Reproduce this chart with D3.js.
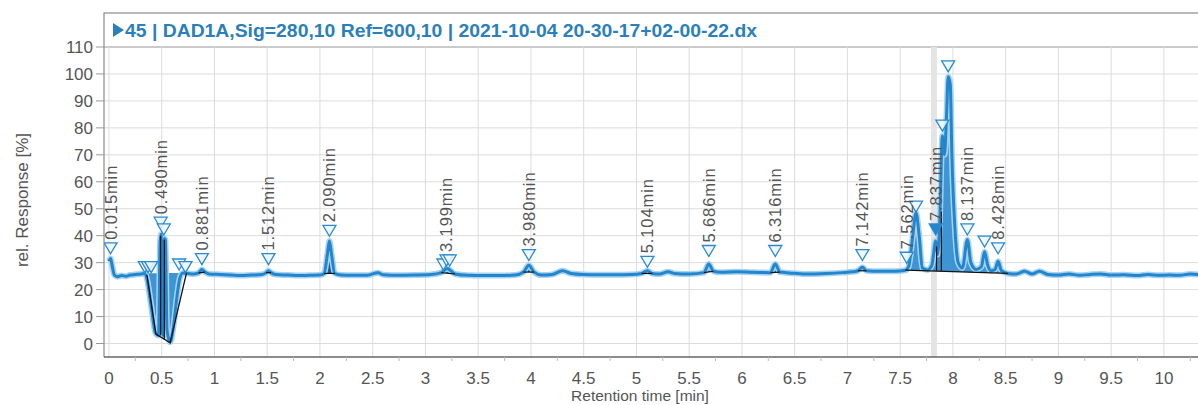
<!DOCTYPE html>
<html>
<head>
<meta charset="utf-8">
<script src="https://cdn.jsdelivr.net/npm/d3@7"></script>
<style>
  body { margin: 0; background: #fff; }
  svg { display: block; font-family: "Liberation Sans", Arial, sans-serif; }
</style>
</head>
<body>
<svg id="chart" width="1198" height="405"></svg>
<script>
// chromatogram trace
const retTime = [
  0.00, 0.015, 0.03, 0.05, 0.08, 0.12, 0.16, 0.20, 0.25, 0.30,
  0.34, 0.36, 0.40, 0.44, 0.47, 0.485, 0.495, 0.505, 0.515, 0.525,
  0.535, 0.55, 0.58, 0.61, 0.64, 0.67, 0.70, 0.75, 0.80, 0.85,
  0.881, 0.91, 0.95, 1.05, 1.15, 1.25, 1.35, 1.45, 1.49, 1.512,
  1.535, 1.58, 1.70, 1.80, 1.90, 2.00, 2.04, 2.07, 2.09, 2.11,
  2.14, 2.20, 2.30, 2.45, 2.55, 2.60, 2.75, 2.90, 3.05, 3.15,
  3.19, 3.21, 3.24, 3.28, 3.40, 3.55, 3.70, 3.85, 3.93, 3.98,
  4.03, 4.10, 4.20, 4.30, 4.38, 4.50, 4.62, 4.80, 4.95, 5.05,
  5.104, 5.15, 5.22, 5.30, 5.36, 5.50, 5.64, 5.686, 5.73, 5.80,
  5.95, 6.10, 6.27, 6.316, 6.36, 6.45, 6.60, 6.80, 6.95, 7.05,
  7.10, 7.142, 7.18, 7.30, 7.45, 7.55, 7.58, 7.62, 7.65, 7.68,
  7.71, 7.76, 7.80, 7.837, 7.855, 7.875, 7.90, 7.92, 7.94, 7.955,
  7.975, 7.99, 8.02, 8.05, 8.09, 8.137, 8.17, 8.22, 8.27, 8.30,
  8.33, 8.36, 8.40, 8.428, 8.46, 8.52, 8.60, 8.68, 8.75, 8.82,
  8.90, 9.00, 9.10, 9.20, 9.30, 9.40, 9.50, 9.62, 9.75, 9.85,
  9.95, 10.05, 10.15, 10.25, 10.34
];
const response = [
  30.5, 31.5, 29.0, 25.5, 24.8, 25.2, 25.0, 25.4, 25.6, 25.8,
  26.0, 24.0, 14.0, 4.0, 3.0, 38.0, 40.5, 5.0, 3.0, 39.0,
  38.5, 5.0, 0.5, 6.0, 16.0, 24.0, 26.2, 26.0, 25.8, 26.2,
  27.5, 26.5, 25.8, 25.6, 25.4, 25.2, 25.4, 25.6, 26.3, 27.0,
  26.3, 25.6, 25.4, 25.2, 25.3, 25.4, 26.0, 33.0, 38.0, 33.0,
  26.0, 25.4, 25.3, 25.3, 26.3, 25.5, 25.3, 25.4, 25.6, 26.3,
  27.5, 27.8, 27.0, 25.8, 25.3, 25.2, 25.2, 25.4, 26.5, 29.0,
  26.5, 25.4, 25.6, 27.0, 26.0, 25.6, 25.5, 25.5, 25.6, 26.0,
  27.0, 26.0, 25.8, 26.6, 26.0, 25.8, 26.3, 29.5, 26.8, 26.4,
  26.6, 26.4, 26.3, 29.5, 26.5, 26.2, 25.8, 26.0, 26.3, 26.6,
  27.0, 28.3, 27.0, 26.8, 26.8, 27.2, 28.5, 40.0, 48.5, 40.0,
  28.0, 27.3, 29.0, 38.0, 33.0, 45.0, 77.0, 70.0, 85.0, 99.0,
  96.0, 70.0, 42.0, 30.0, 28.0, 38.5, 30.0, 27.5, 28.5, 34.0,
  29.0, 27.0, 27.5, 30.5, 27.0, 26.0, 25.8, 26.8, 25.8, 26.8,
  25.6, 25.4, 25.8, 25.3, 25.6, 25.8, 25.4, 25.5, 25.2, 25.6,
  25.3, 25.4, 25.3, 25.8, 25.5
];

// peak markers (triangles): time, level, filled
const markerTime   = [0.015, 0.34, 0.37, 0.40, 0.49, 0.52, 0.665, 0.725, 0.881, 1.512, 2.09, 3.17, 3.20, 3.23, 3.98, 5.104, 5.686, 6.316, 7.142, 7.562, 7.65, 7.837, 7.90, 7.955, 8.137, 8.30, 8.428];
const markerLevel  = [35.5, 28.5, 28.5, 28.5, 45, 42.5, 29.5, 28.5, 31.5, 31.5, 42, 29.5, 31, 31, 33, 30.5, 34.5, 34.5, 33, 32, 51, 42.5, 81, 103, 42.5, 38, 35.5];
const markerFilled = [0, 0, 0, 0, 0, 0, 0, 0, 0, 0, 0, 0, 0, 0, 0, 0, 0, 0, 0, 0, 0, 1, 0, 0, 0, 0, 0];

// labelled peaks
const labelTime  = [0.015, 0.490, 0.881, 1.512, 2.090, 3.199, 3.980, 5.104, 5.686, 6.316, 7.142, 7.562, 7.837, 8.137, 8.428];
const labelLevel = [35.5, 45, 31.5, 31.5, 42, 31, 33, 30.5, 34.5, 34.5, 33, 32, 42.5, 42.5, 35.5];

// integration windows (start, end) on trace points
const smallWindows = [[0.85, 0.91], [1.49, 1.535], [2.04, 2.14], [3.15, 3.28], [3.93, 4.03], [5.05, 5.15], [5.64, 5.73], [6.27, 6.36], [7.10, 7.18]];
const bigWindows = [[0.34, 0.70], [7.55, 8.52]];
const dipEdge = [[0.36, 25.5], [0.445, 3.5], [0.58, 0.3], [0.735, 26.2]];
const dropLines = [[0.49, 3, 40], [0.525, 1.5, 38.5], [7.845, 27, 36], [7.89, 27, 49]];

const yTicks = [0, 10, 20, 30, 40, 50, 60, 70, 80, 90, 100, 110];
const xTicks = [0, 0.5, 1, 1.5, 2, 2.5, 3, 3.5, 4, 4.5, 5, 5.5, 6, 6.5, 7, 7.5, 8, 8.5, 9, 9.5, 10];
const xMinorTicks = [0.25, 0.75, 1.25, 1.75, 2.25, 2.75, 3.25, 3.75, 4.25, 4.75, 5.25, 5.75, 6.25, 6.75, 7.25, 7.75, 8.25, 8.75, 9.25, 9.75, 10.25];
const selectedTime = 7.82;

const titleText = "45 | DAD1A,Sig=280,10  Ref=600,10 | 2021-10-04 20-30-17+02-00-22.dx";

const plot = { left: 104, right: 1204, top: 47, bottom: 357, titleTop: 13 };
const blue = "#2386cc";

const x = d3.scaleLinear().domain([-0.047, 10.38]).range([plot.left, plot.right]);
const y = d3.scaleLinear().domain([-5, 110]).range([plot.bottom, plot.top]);

const svg = d3.select("#chart");

// title bar
svg.append("rect")
  .attr("x", plot.left).attr("y", plot.titleTop)
  .attr("width", plot.right - plot.left).attr("height", plot.top - plot.titleTop)
  .attr("fill", "#fff").attr("stroke", "#8a8a8a").attr("stroke-width", 1.2);
svg.append("path")
  .attr("d", "M113,23 L124,30 L113,37 Z")
  .attr("fill", "#2b7fba");
svg.append("text")
  .attr("x", 125).attr("y", 37)
  .attr("font-size", 17.5).attr("font-weight", "bold")
  .attr("fill", "#2b7fba")
  .attr("textLength", 632).attr("lengthAdjust", "spacingAndGlyphs")
  .text(titleText);

// grid
const grid = svg.append("g").attr("id", "grid");
grid.selectAll("line.gy").data(yTicks).enter().append("line")
  .attr("class", "gy")
  .attr("x1", plot.left).attr("x2", plot.right)
  .attr("y1", (d) => y(d)).attr("y2", (d) => y(d))
  .attr("stroke", "#dcdcdc").attr("stroke-width", 1);
grid.selectAll("line.gx").data(xTicks).enter().append("line")
  .attr("class", "gx")
  .attr("x1", (d) => x(d)).attr("x2", (d) => x(d))
  .attr("y1", plot.top).attr("y2", plot.bottom)
  .attr("stroke", "#dcdcdc").attr("stroke-width", 1);

// selected time band
svg.append("rect")
  .attr("x", x(selectedTime) - 3).attr("y", plot.top)
  .attr("width", 6).attr("height", plot.bottom - plot.top)
  .attr("fill", "#e4e4e4");

// axes frame
svg.append("line")
  .attr("x1", plot.left).attr("x2", plot.left)
  .attr("y1", plot.top).attr("y2", plot.bottom)
  .attr("stroke", "#8a8a8a").attr("stroke-width", 1.2);
svg.append("line")
  .attr("x1", plot.left).attr("x2", plot.right)
  .attr("y1", plot.bottom).attr("y2", plot.bottom)
  .attr("stroke", "#666").attr("stroke-width", 1.6);

// y ticks + labels
const yAxis = svg.append("g");
yAxis.selectAll("line").data(yTicks).enter().append("line")
  .attr("x1", plot.left - 8).attr("x2", plot.left)
  .attr("y1", (d) => y(d)).attr("y2", (d) => y(d))
  .attr("stroke", "#999");
yAxis.selectAll("text").data(yTicks).enter().append("text")
  .attr("x", plot.left - 11).attr("y", (d) => y(d) + 6)
  .attr("text-anchor", "end").attr("font-size", 17).attr("fill", "#555")
  .text((d) => d);

// x ticks + labels
const xAxis = svg.append("g");
xAxis.selectAll("line.minor").data(xMinorTicks).enter().append("line")
  .attr("class", "minor")
  .attr("x1", (d) => x(d)).attr("x2", (d) => x(d))
  .attr("y1", plot.bottom).attr("y2", plot.bottom + 4)
  .attr("stroke", "#bbb");
xAxis.selectAll("text").data(xTicks).enter().append("text")
  .attr("x", (d) => x(d)).attr("y", plot.bottom + 27)
  .attr("text-anchor", "middle").attr("font-size", 17).attr("fill", "#555")
  .text((d) => d);

svg.append("text")
  .attr("x", 640).attr("y", 401)
  .attr("text-anchor", "middle").attr("font-size", 15.5).attr("fill", "#555")
  .text("Retention time [min]");
svg.append("text")
  .attr("transform", `translate(28, 200) rotate(-90)`)
  .attr("text-anchor", "middle").attr("font-size", 17).attr("fill", "#555")
  .text("rel. Response [%]");

// trace data
const trace = retTime.map((t, i) => [t, response[i]]);
svg.append("clipPath").attr("id", "plot-clip")
  .append("rect").attr("x", plot.left).attr("y", plot.top)
  .attr("width", plot.right - plot.left).attr("height", plot.bottom - plot.top);
const layer = svg.append("g").attr("clip-path", "url(#plot-clip)");

function windowPoints(w) {
  return trace.filter((p) => p[0] >= w[0] - 1e-9 && p[0] <= w[1] + 1e-9);
}
function windowArea(w) {
  const pts = windowPoints(w);
  const a = pts[0], b = pts[pts.length - 1];
  const base = (t) => a[1] + ((t - a[0]) / (b[0] - a[0])) * (b[1] - a[1]);
  return d3.area()
    .x((p) => x(p[0]))
    .y0((p) => y(base(p[0])))
    .y1((p) => y(p[1]))
    .curve(d3.curveMonotoneX)(pts);
}
function windowBase(w) {
  const pts = windowPoints(w);
  const a = pts[0], b = pts[pts.length - 1];
  return `M${x(a[0])},${y(a[1])}L${x(b[0])},${y(b[1])}`;
}

layer.selectAll("path.big").data(bigWindows).enter().append("path")
  .attr("class", "big").attr("d", windowArea)
  .attr("fill", "#2a88cf").attr("opacity", 0.9);
layer.selectAll("path.small").data(smallWindows).enter().append("path")
  .attr("class", "small").attr("d", windowArea)
  .attr("fill", "#1b5e96");

// halo + main line
const line = d3.line().x((p) => x(p[0])).y((p) => y(p[1])).curve(d3.curveMonotoneX);
layer.append("path").datum(trace)
  .attr("d", line).attr("fill", "none")
  .attr("stroke", "#a6d3f2").attr("stroke-width", 6).attr("stroke-linejoin", "round");
layer.append("path").datum(trace)
  .attr("d", line).attr("fill", "none")
  .attr("stroke", blue).attr("stroke-width", 3).attr("stroke-linejoin", "round");

// integration baselines
layer.selectAll("path.base").data(smallWindows.concat([bigWindows[1]])).enter().append("path")
  .attr("class", "base").attr("d", windowBase)
  .attr("fill", "none").attr("stroke", "#111").attr("stroke-width", 1.2);
layer.append("path").datum(dipEdge)
  .attr("d", d3.line().x((p) => x(p[0])).y((p) => y(p[1])))
  .attr("fill", "none").attr("stroke", "#111").attr("stroke-width", 1.3);
layer.selectAll("line.drop").data(dropLines).enter().append("line")
  .attr("class", "drop")
  .attr("x1", (d) => x(d[0])).attr("x2", (d) => x(d[0]))
  .attr("y1", (d) => y(d[1])).attr("y2", (d) => y(d[2]))
  .attr("stroke", "#111").attr("stroke-width", 1.2);

// triangles
layer.selectAll("path.marker").data(markerTime).enter().append("path")
  .attr("class", "marker")
  .attr("d", (t, i) => {
    const cx = x(t), cy = y(markerLevel[i]);
    return `M${cx - 6.5},${cy - 5}L${cx + 6.5},${cy - 5}L${cx},${cy + 6}Z`;
  })
  .attr("fill", (t, i) => (markerFilled[i] ? blue : "rgba(236,246,253,0.85)"))
  .attr("stroke", "#2a8ad0").attr("stroke-width", 1.3);

// peak labels
svg.selectAll("text.peak").data(labelTime).enter().append("text")
  .attr("class", "peak")
  .attr("transform", (t, i) => `translate(${x(t) + 6}, ${y(labelLevel[i]) - 8}) rotate(-90)`)
  .attr("font-size", 16.5).attr("letter-spacing", 0.9).attr("fill", "#555")
  .text((t) => t.toFixed(3) + "min");
</script>
</body>
</html>
